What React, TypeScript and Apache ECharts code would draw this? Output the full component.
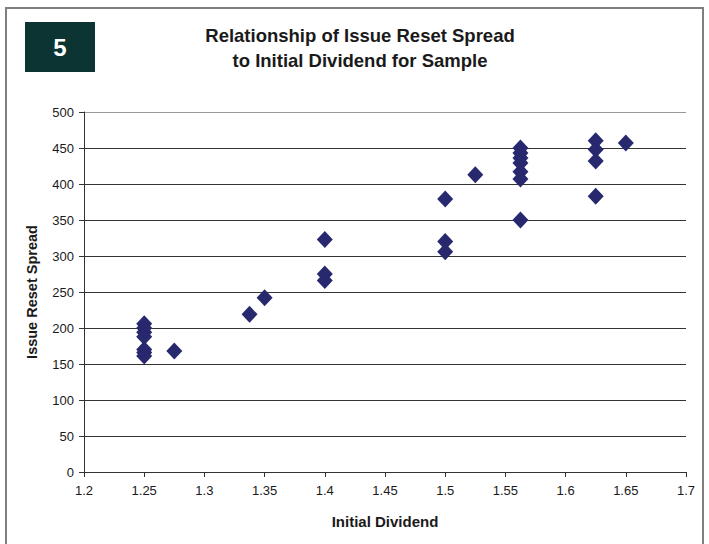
import React, { useEffect, useRef } from "react";
import * as echarts from "echarts";

const xValues = [
  1.25, 1.25, 1.25, 1.25, 1.25, 1.25, 1.25,
  1.275, 1.3375, 1.35,
  1.4, 1.4, 1.4,
  1.5, 1.5, 1.5,
  1.525,
  1.5625, 1.5625, 1.5625, 1.5625, 1.5625, 1.5625, 1.5625,
  1.625, 1.625, 1.625, 1.625,
  1.65,
];
const yValues = [
  206, 200, 194, 188, 170, 166, 161,
  168, 219, 242,
  323, 275, 266,
  379, 320, 306,
  413,
  450, 443, 436, 429, 417, 407, 350,
  460, 448, 432, 383,
  457,
];
const titleLines = ["Relationship of Issue Reset Spread", "to Initial Dividend for Sample"];
const badge = "5";
const xName = "Initial Dividend";
const yName = "Issue Reset Spread";

export default function App() {
  const ref = useRef<HTMLDivElement>(null);
  useEffect(() => {
    document.body.style.margin = "0";
    const chart = echarts.init(ref.current!, null, { renderer: "svg" });
    const font = "Liberation Sans, Arial, sans-serif";
    const gridColors = ["#333", "#333", "#333", "#333", "#333", "#333", "#333", "#333", "#333", "#333", "#999"];
    chart.setOption({
      animation: false,
      backgroundColor: "#ffffff",
      grid: { left: 84, right: 23, top: 112, bottom: 72 },
      graphic: [
        {
          type: "rect",
          shape: { x: 6, y: 8, width: 697, height: 560 },
          style: { fill: "none", stroke: "#7f7f7f", lineWidth: 2 },
          silent: true,
        },
        {
          type: "rect",
          shape: { x: 25, y: 22, width: 70, height: 50 },
          style: { fill: "#0c3433" },
        },
        {
          type: "text",
          x: 60,
          y: 47,
          style: {
            text: badge,
            fill: "#ffffff",
            font: `bold 24px ${font}`,
            align: "center",
            verticalAlign: "middle",
          },
        },
        {
          type: "text",
          x: 360,
          y: 35,
          style: {
            text: titleLines[0],
            fill: "#1a1a1a",
            font: `bold 18.5px ${font}`,
            align: "center",
            verticalAlign: "middle",
          },
        },
        {
          type: "text",
          x: 360,
          y: 60,
          style: {
            text: titleLines[1],
            fill: "#1a1a1a",
            font: `bold 18.5px ${font}`,
            align: "center",
            verticalAlign: "middle",
          },
        },
      ],
      xAxis: {
        type: "value",
        min: 1.2,
        max: 1.7,
        interval: 0.05,
        name: xName,
        nameLocation: "middle",
        nameGap: 42,
        nameTextStyle: { fontFamily: font, fontWeight: "bold", fontSize: 15, color: "#1a1a1a" },
        axisLine: { show: true, lineStyle: { color: "#333", width: 1 } },
        axisTick: { show: true, inside: false, length: 5, lineStyle: { color: "#333" } },
        axisLabel: {
          fontFamily: font,
          fontSize: 13,
          color: "#1a1a1a",
          margin: 12,
          formatter: (v: number) => String(+v.toFixed(2)),
        },
        splitLine: { show: false },
      },
      yAxis: {
        type: "value",
        min: 0,
        max: 500,
        interval: 50,
        name: yName,
        nameLocation: "middle",
        nameGap: 45,
        nameTextStyle: { fontFamily: font, fontWeight: "bold", fontSize: 14.5, color: "#1a1a1a" },
        axisLine: { show: true, lineStyle: { color: "#333", width: 1 } },
        axisTick: { show: true, inside: false, length: 5, lineStyle: { color: "#333" } },
        axisLabel: { fontFamily: font, fontSize: 13, color: "#1a1a1a", margin: 10 },
        splitLine: { show: true, lineStyle: { color: gridColors, width: 1 } },
      },
      series: [
        {
          type: "scatter",
          symbol: "diamond",
          symbolSize: [16, 17],
          itemStyle: { color: "#28286f", opacity: 1 },
          data: xValues.map((x, i) => [x, yValues[i]]),
        },
      ],
    });
    return () => chart.dispose();
  }, []);
  return <div ref={ref} style={{ width: 709, height: 544 }} />;
}
